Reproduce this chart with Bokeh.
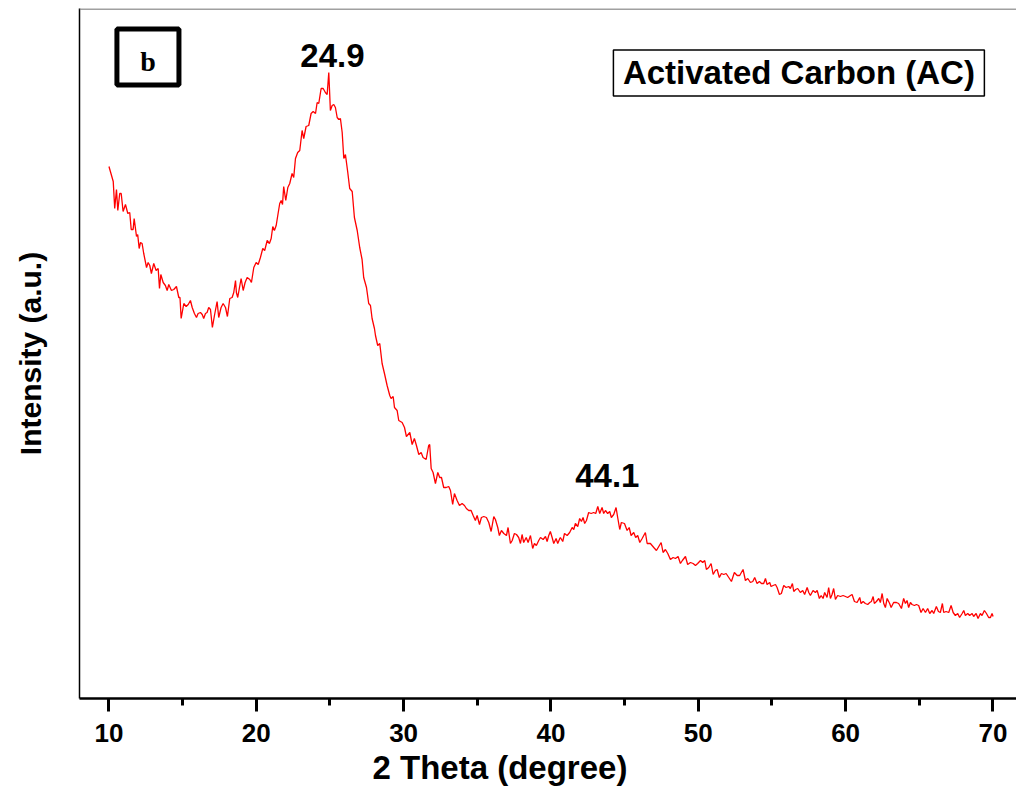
from bokeh.plotting import figure
from bokeh.models import (Range1d, SingleIntervalTicker, FixedTicker, Span, BoxAnnotation,
                          Label, ColumnDataSource, Title)
from bokeh.core.properties import value
from bokeh.embed import file_html
from bokeh.resources import INLINE

# ---------------- data ----------------
two_theta = [
    10.00, 10.29, 10.39, 10.51, 10.60, 10.73, 10.83, 10.96, 11.12, 11.28, 11.41, 11.51, 11.64, 11.71,
    11.87, 11.95, 12.05, 12.14, 12.25, 12.36, 12.55, 12.66, 12.77, 12.88, 13.04, 13.20, 13.34, 13.43,
    13.52, 13.68, 13.83, 13.95, 14.06, 14.24, 14.40, 14.58, 14.74, 14.82, 14.90, 15.08, 15.24, 15.38,
    15.53, 15.65, 15.80, 15.94, 16.05, 16.21, 16.33, 16.43, 16.55, 16.66, 16.77, 16.89, 17.02, 17.16,
    17.34, 17.45, 17.61, 17.75, 17.91, 18.04, 18.20, 18.36, 18.47, 18.59, 18.65, 18.74, 18.86, 18.97,
    19.11, 19.24, 19.38, 19.56, 19.67, 19.83, 19.99, 20.13, 20.28, 20.44, 20.57, 20.74, 20.89, 21.01,
    21.12, 21.23, 21.35, 21.48, 21.59, 21.69, 21.78, 21.86, 22.00, 22.14, 22.27, 22.43, 22.54, 22.66,
    22.81, 22.95, 23.11, 23.22, 23.38, 23.56, 23.72, 23.86, 24.02, 24.13, 24.24, 24.40, 24.54, 24.69,
    24.81, 24.92, 25.03, 25.15, 25.26, 25.37, 25.49, 25.60, 25.71, 25.83, 25.94, 26.05, 26.21, 26.34,
    26.51, 26.66, 26.85, 27.02, 27.18, 27.29, 27.48, 27.63, 27.75, 27.86, 28.02, 28.09, 28.24, 28.38,
    28.54, 28.70, 28.88, 29.06, 29.15, 29.29, 29.38, 29.56, 29.67, 29.90, 30.06, 30.19, 30.42, 30.58,
    30.73, 30.87, 31.03, 31.19, 31.32, 31.53, 31.70, 31.77, 31.87, 32.00, 32.16, 32.32, 32.45, 32.57,
    32.72, 32.89, 33.06, 33.18, 33.33, 33.45, 33.63, 33.79, 33.97, 34.13, 34.26, 34.42, 34.58, 34.72,
    34.87, 34.99, 35.15, 35.28, 35.44, 35.62, 35.78, 35.94, 36.12, 36.23, 36.39, 36.50, 36.64, 36.80,
    36.98, 37.09, 37.25, 37.37, 37.52, 37.66, 37.81, 37.93, 38.04, 38.15, 38.32, 38.45, 38.61, 38.76,
    38.88, 39.01, 39.17, 39.29, 39.47, 39.63, 39.74, 39.85, 39.96, 40.08, 40.19, 40.35, 40.46, 40.60,
    40.64, 40.80, 40.92, 41.10, 41.27, 41.44, 41.55, 41.66, 41.82, 41.95, 42.07, 42.18, 42.29, 42.41,
    42.56, 42.73, 42.90, 43.04, 43.18, 43.31, 43.47, 43.58, 43.70, 43.85, 43.99, 44.10, 44.26, 44.42,
    44.53, 44.67, 44.78, 44.99, 45.17, 45.31, 45.44, 45.62, 45.75, 45.89, 46.03, 46.19, 46.41, 46.53,
    46.75, 46.98, 47.16, 47.32, 47.48, 47.61, 47.77, 47.93, 48.11, 48.29, 48.45, 48.63, 48.79, 48.92,
    49.13, 49.28, 49.47, 49.65, 49.81, 49.96, 50.15, 50.30, 50.44, 50.55, 50.71, 50.87, 51.01, 51.16,
    51.28, 51.43, 51.57, 51.73, 51.89, 52.07, 52.25, 52.45, 52.64, 52.81, 53.04, 53.20, 53.36, 53.54,
    53.70, 53.83, 53.99, 54.15, 54.29, 54.44, 54.56, 54.67, 54.85, 54.94, 55.08, 55.24, 55.35, 55.51,
    55.64, 55.80, 55.96, 56.14, 56.25, 56.39, 56.48, 56.61, 56.75, 56.93, 57.09, 57.22, 57.39, 57.50,
    57.61, 57.79, 57.95, 58.07, 58.22, 58.34, 58.47, 58.58, 58.74, 58.85, 58.97, 59.08, 59.19, 59.31,
    59.46, 59.65, 59.83, 59.99, 60.14, 60.33, 60.44, 60.60, 60.78, 60.96, 61.05, 61.19, 61.34, 61.50,
    61.64, 61.75, 61.87, 61.95, 62.09, 62.25, 62.36, 62.48, 62.59, 62.70, 62.82, 62.99, 63.09, 63.26,
    63.45, 63.60, 63.79, 63.94, 64.06, 64.17, 64.28, 64.40, 64.51, 64.67, 64.81, 64.96, 65.12, 65.26,
    65.42, 65.57, 65.71, 65.87, 65.98, 66.16, 66.30, 66.43, 66.57, 66.66, 66.82, 67.00, 67.16, 67.30,
    67.45, 67.61, 67.74, 67.91, 68.02, 68.13, 68.29, 68.42, 68.59, 68.69, 68.86, 68.99, 69.15, 69.26,
    69.42, 69.56, 69.71, 69.83, 69.94, 70.01,
]
intensity = [
    532, 517, 490, 509, 488, 505, 505, 487, 494, 485, 486, 469, 469, 480,
    462, 464, 450, 456, 455, 445, 431, 436, 433, 425, 435, 428, 430, 410,
    424, 416, 413, 408, 414, 408, 409, 412, 401, 401, 380, 395, 392, 394,
    398, 391, 385, 381, 385, 386, 384, 380, 385, 386, 391, 389, 371, 383,
    397, 381, 391, 395, 391, 382, 400, 401, 406, 418, 406, 401, 411, 420,
    408, 416, 421, 419, 416, 431, 436, 434, 441, 450, 448, 458, 455, 460,
    472, 468, 473, 485, 495, 498, 494, 512, 498, 511, 515, 525, 521, 540,
    546, 548, 568, 560, 572, 573, 585, 587, 585, 596, 595, 610, 610, 606,
    604, 626, 588, 593, 594, 591, 581, 579, 580, 566, 540, 544, 526, 510,
    507, 481, 468, 451, 439, 421, 411, 395, 393, 380, 370, 363, 353, 355,
    335, 325, 313, 303, 300, 302, 291, 288, 278, 276, 271, 262, 266, 254,
    260, 253, 244, 246, 241, 239, 253, 254, 230, 226, 215, 226, 221, 221,
    211, 211, 212, 208, 194, 205, 198, 193, 195, 193, 190, 188, 188, 183,
    178, 183, 174, 181, 182, 181, 176, 167, 182, 179, 171, 163, 168, 165,
    163, 171, 155, 158, 165, 164, 161, 155, 164, 156, 161, 156, 163, 150,
    155, 153, 158, 161, 159, 162, 157, 163, 167, 161, 155, 160, 155, 160,
    161, 157, 165, 163, 166, 171, 169, 175, 172, 180, 177, 181, 175, 178,
    186, 185, 186, 185, 192, 185, 191, 185, 188, 185, 187, 181, 184, 191,
    181, 169, 176, 175, 168, 171, 163, 166, 161, 163, 156, 160, 166, 155,
    155, 151, 148, 152, 156, 146, 149, 145, 139, 141, 140, 142, 135, 138,
    142, 134, 136, 135, 133, 135, 138, 136, 138, 129, 131, 135, 124, 128,
    129, 121, 125, 124, 125, 121, 117, 126, 123, 123, 129, 118, 120, 116,
    117, 121, 115, 117, 115, 115, 120, 114, 116, 112, 113, 114, 111, 104,
    105, 113, 111, 112, 110, 115, 107, 109, 110, 106, 108, 104, 111, 106,
    103, 108, 106, 108, 100, 103, 100, 106, 101, 111, 100, 104, 110, 99,
    103, 102, 103, 102, 101, 103, 104, 97, 96, 101, 95, 97, 95, 94,
    96, 97, 102, 95, 97, 100, 96, 105, 95, 91, 100, 95, 91, 96,
    96, 95, 90, 100, 95, 98, 91, 96, 94, 93, 94, 93, 86, 90,
    86, 90, 85, 88, 85, 92, 87, 86, 95, 86, 87, 86, 93, 86,
    83, 85, 81, 85, 88, 83, 85, 83, 85, 82, 85, 80, 85, 83,
    88, 85, 81, 81, 85, 82,
]
peak_positions = [24.9, 44.1]
peak_labels = ["24.9", "44.1"]
sample_name = "Activated Carbon (AC)"
panel_tag = "b"
x_title = "2 Theta (degree)"
y_title = "Intensity (a.u.)"

FONT = "Liberation Sans"

p = figure(width=1016, height=798, output_backend="svg", toolbar_location=None,
           x_range=Range1d(8.0, 71.6), y_range=Range1d(0, 690),
           min_border_left=79, min_border_right=0, min_border_top=8, min_border_bottom=100)
p.outline_line_color = None
p.xgrid.visible = False
p.ygrid.visible = False
p.background_fill_color = "white"
p.border_fill_color = "white"

p.line(two_theta, intensity, line_color="#ff0000", line_width=1.3)

# x axis
xa = p.xaxis[0]
xa.ticker = SingleIntervalTicker(interval=10, num_minor_ticks=2)
xa.axis_line_width = 2.5
xa.axis_line_color = "black"
xa.major_tick_line_width = 3
xa.minor_tick_line_width = 3
xa.major_tick_line_color = "black"
xa.minor_tick_line_color = "black"
xa.major_tick_in = 0
xa.major_tick_out = 13
xa.minor_tick_in = 0
xa.minor_tick_out = 7
xa.major_label_text_font = FONT
xa.major_label_text_font_style = "bold"
xa.major_label_text_font_size = "26px"
xa.major_label_text_color = "black"
xa.major_label_standoff = 12

# x-axis title, offset left of the frame centre as in the reference
p.add_layout(Title(text=x_title, align="left", offset=293, standoff=5,
                   text_font=FONT, text_font_style="bold", text_font_size="33px",
                   text_color="black"), "below")

# y axis
ya = p.yaxis[0]
ya.ticker = FixedTicker(ticks=[])
ya.axis_line_width = 1.5
ya.axis_line_color = "black"
ya.major_tick_line_color = None
ya.minor_tick_line_color = None
ya.major_label_text_font_size = "0px"
ya.axis_label = y_title
ya.axis_label_text_font = FONT
ya.axis_label_text_font_style = "bold"
ya.axis_label_text_font_size = "30px"
ya.axis_label_text_color = "black"
ya.axis_label_standoff = 33

# top border (gray)
p.add_layout(Span(location=689.5, dimension="width", line_color="#808080", line_width=1.5))

# peak labels
src = ColumnDataSource(dict(
    x=peak_positions,
    y=[max(v for t, v in zip(two_theta, intensity) if abs(t - pp) < 1.0) for pp in peak_positions],
    text=peak_labels,
    xo=[4, -4],
    yo=[-17, -31],
))
p.text(x="x", y="y", text="text", x_offset="xo", y_offset="yo", source=src,
       text_align="center", text_baseline="alphabetic",
       text_font=value(FONT), text_font_style="bold",
       text_font_size="33px", text_color="black")

# sample name box
p.add_layout(BoxAnnotation(left=44.24, right=69.42, top=648.5, bottom=602.5,
                           fill_color=None, line_color="black", line_alpha=1.0, line_width=1.5))
p.add_layout(Label(x=56.83, y=626, text=sample_name, text_align="center",
                   text_baseline="alphabetic", text_font=FONT, text_font_style="bold",
                   text_font_size="33px", text_color="black"))

# panel tag box
p.add_layout(BoxAnnotation(left=10.54, right=14.75, top=669.5, bottom=613.5,
                           fill_color=None, line_color="black", line_alpha=1.0, line_width=5))
p.add_layout(Label(x=12.65, y=637, text=panel_tag, text_align="center",
                   text_baseline="alphabetic", text_font="Liberation Serif",
                   text_font_style="bold", text_font_size="28px", text_color="black"))

open("out.html", "w").write(file_html(p, INLINE))
